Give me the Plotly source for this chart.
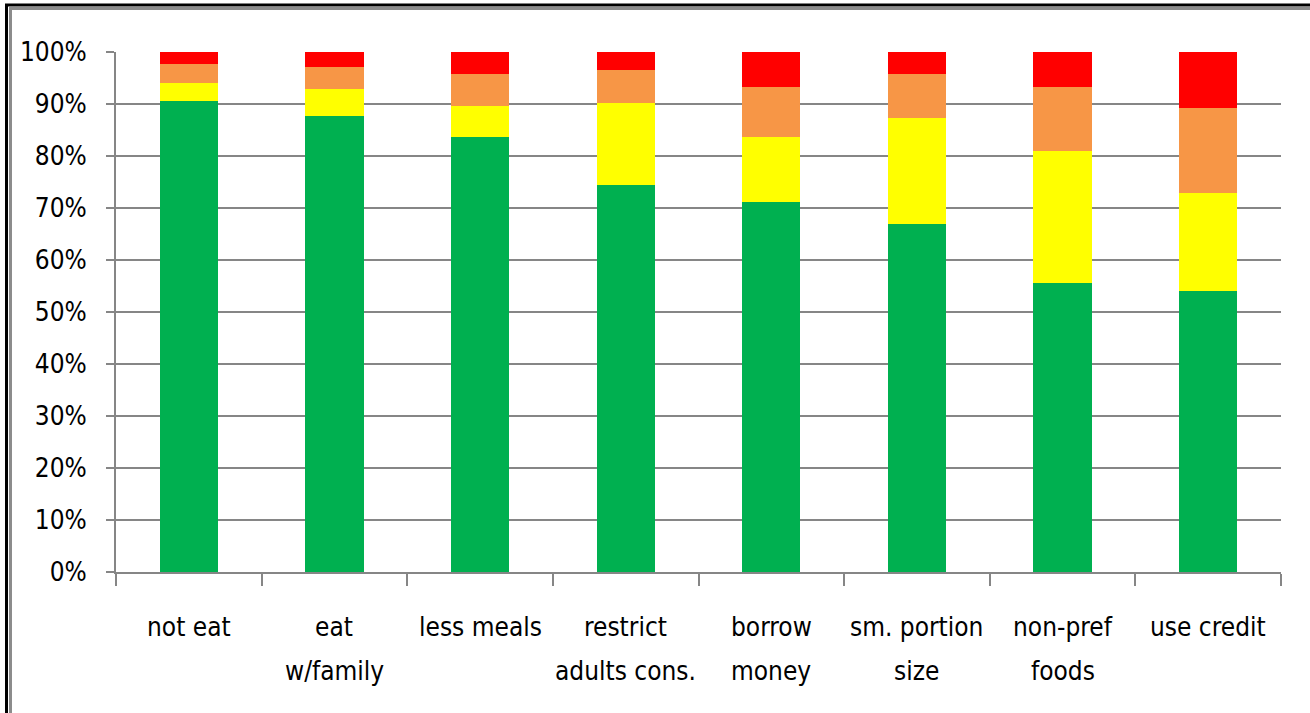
import plotly.graph_objects as go

# Coping strategies, share of households by frequency (100% stacked)
categories = [
    "not eat", "eat<br>w/family", "less meals", "restrict<br>adults cons.",
    "borrow<br>money", "sm. portion<br>size", "non-pref<br>foods", "use credit",
]
never = [90.5, 87.6, 83.6, 74.4, 71.1, 66.9, 55.5, 54.0]
rarely = [3.5, 5.2, 6.0, 15.7, 12.5, 20.4, 25.4, 18.8]
sometimes = [3.6, 4.4, 6.1, 6.4, 9.6, 8.4, 12.3, 16.4]
often = [2.4, 2.8, 4.3, 3.5, 6.8, 4.3, 6.8, 10.8]

series_names = ["never", "rarely", "sometimes", "often"]
series_colors = ["#00B050", "#FFFF00", "#F79646", "#FF0000"]
series_values = [never, rarely, sometimes, often]

y_ticks = list(range(0, 101, 10))
y_tick_text = [f"{v}%" for v in y_ticks]

FONT = "'DejaVu Sans Condensed', 'Liberation Sans', sans-serif"
FONT_SIZE = 26
GRID = "#868686"

fig = go.Figure()
for name, color, vals in zip(series_names, series_colors, series_values):
    fig.add_trace(go.Bar(
        x=categories, y=vals, name=name,
        marker=dict(color=color, line=dict(width=0)),
        width=0.4,
    ))

W, H = 1310, 713
L, R, T, B = 116, 29, 52, 141
pw, ph = W - L - R, H - T - B


def px(x):
    return (x - L) / pw


def py(y):
    return (H - B - y) / ph


# double frame on the top and left edges
frame = [
    dict(x0=px(6.5), x1=px(6.5), y0=py(5), y1=py(720), color="#000000", w=3),
    dict(x0=px(5), x1=px(1320), y0=py(5), y1=py(5), color="#000000", w=3),
    dict(x0=px(10.5), x1=px(10.5), y0=py(8.5), y1=py(720), color="#8C8C8C", w=3),
    dict(x0=px(9), x1=px(1320), y0=py(8.5), y1=py(8.5), color="#8C8C8C", w=3),
]
shapes = [
    dict(type="line", xref="paper", yref="paper", x0=f["x0"], x1=f["x1"],
         y0=f["y0"], y1=f["y1"], line=dict(color=f["color"], width=f["w"]))
    for f in frame
]

# category labels, one annotation per text line, centred under each bar
line_centres = [627, 671]
labels = []
for cat in categories:
    for i, part in enumerate(cat.split("<br>")):
        labels.append(dict(
            x=cat, xref="x", y=py(line_centres[i]), yref="paper",
            text=part, showarrow=False, xanchor="center", yanchor="middle",
            font=dict(family=FONT, size=FONT_SIZE, color="#000000"),
        ))

fig.update_layout(
    width=W, height=H,
    margin=dict(l=L, r=R, t=T, b=B, pad=0, autoexpand=False),
    barmode="stack",
    bargap=0.6,
    showlegend=False,
    plot_bgcolor="white",
    paper_bgcolor="white",
    font=dict(family=FONT, size=FONT_SIZE, color="#000000"),
    shapes=shapes,
    annotations=labels,
)
fig.update_xaxes(
    automargin=False,
    showticklabels=False,
    showgrid=False,
    showline=True, linecolor=GRID, linewidth=2,
    ticks="outside", ticklen=12, tickcolor=GRID, tickwidth=2,
    tickson="boundaries",
)
fig.update_yaxes(
    automargin=False,
    range=[0, 100],
    tickvals=y_ticks, ticktext=y_tick_text,
    showgrid=True, gridcolor=GRID, gridwidth=1.5,
    zeroline=False,
    showline=True, linecolor=GRID, linewidth=2,
    ticks="outside", ticklen=8, tickcolor=GRID, tickwidth=2,
    ticklabelstandoff=14,
    tickfont=dict(family=FONT, size=FONT_SIZE, color="#000000"),
)

fig.write_html("out.html")
